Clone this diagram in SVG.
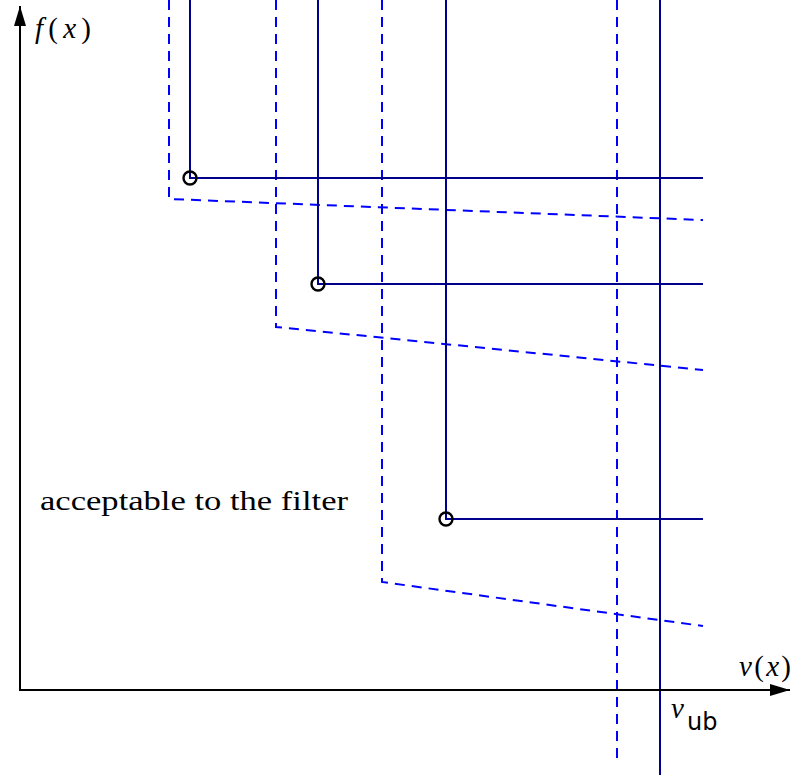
<svg xmlns="http://www.w3.org/2000/svg" width="795" height="775" viewBox="0 0 795 775">
<style>
.ax{stroke:#000;stroke-width:2;fill:none}
.s{stroke:#00008f;stroke-width:2;fill:none}
.d{stroke:#0000ff;stroke-width:2;fill:none;stroke-dasharray:10 7}
.c{stroke:#000;stroke-width:2.4;fill:none}
.t{font-family:"Liberation Serif",serif;font-size:29px;fill:#000}
</style>
<defs>
<marker id="arh" markerWidth="20" markerHeight="12" refX="20" refY="6" orient="auto" markerUnits="userSpaceOnUse">
<path d="M0,0 L20,6 L0,12 z" fill="#000"/>
</marker>
</defs>
<g id="connectors">
<path class="d" d="M169,0 V199 L703,220"/>
<path class="d" d="M276,0 V327 L703,370"/>
<path class="d" d="M382,0 V582 L703,626"/>
<path class="d" d="M617,0 V765"/>
<path class="s" d="M190,0 V178 H703"/>
<path class="s" d="M318,0 V284 H703"/>
<path class="s" d="M446,0 V519 H703"/>
<path class="s" d="M660,0 V775"/>
</g>
<g id="axes">
<line class="ax" x1="20" y1="690" x2="20" y2="6" marker-end="url(#arh)"/>
<line class="ax" x1="19" y1="690" x2="790" y2="690" marker-end="url(#arh)"/>
</g>
<g id="points">
<circle class="c" cx="190" cy="178" r="6.5"/>
<circle class="c" cx="318" cy="284" r="6.5"/>
<circle class="c" cx="446" cy="519" r="6.5"/>
</g>
<g id="labels">
<text class="t" x="35" y="38" font-style="italic" textLength="56" lengthAdjust="spacing">f<tspan font-style="normal">(</tspan>x<tspan font-style="normal">)</tspan></text>
<text class="t" x="739" y="676" font-style="italic" textLength="52" lengthAdjust="spacing">ν<tspan font-style="normal">(</tspan>x<tspan font-style="normal">)</tspan></text>
<text class="t" x="671" y="718" font-style="italic">ν</text>
<text x="687" y="730" style="font-family:'DejaVu Sans',sans-serif;font-size:24px;fill:#000">ub</text>
<text class="t" x="40" y="510" style="font-size:27px" textLength="308" lengthAdjust="spacingAndGlyphs">acceptable to the filter</text>
</g>
</svg>
